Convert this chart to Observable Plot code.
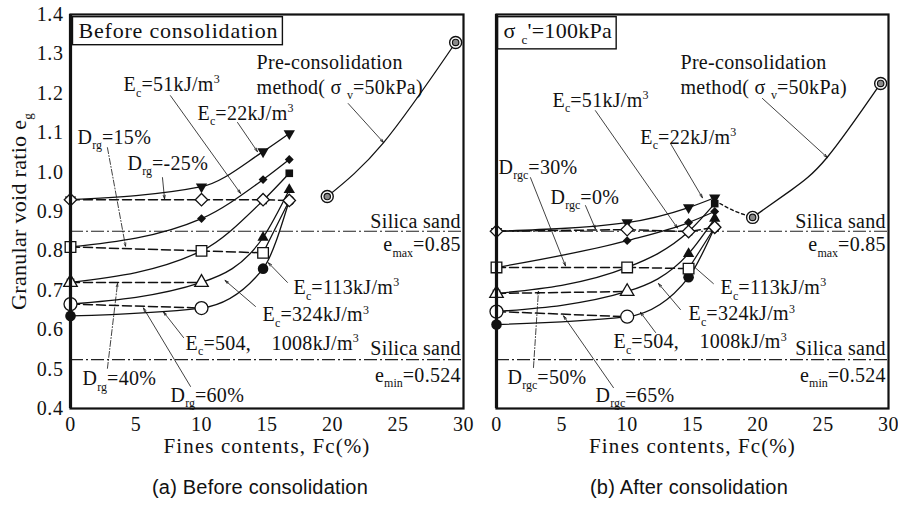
<!DOCTYPE html>
<html>
<head>
<meta charset="utf-8">
<script src="https://cdn.jsdelivr.net/npm/d3@7"></script>
<script src="https://cdn.jsdelivr.net/npm/@observablehq/plot@0.6"></script>
<style>
  body { margin: 0; background: #fff; }
  #fig { position: relative; width: 898px; height: 506px; background: #fff; overflow: hidden; }
  #fig svg { position: absolute; top: 0; overflow: visible; }
  #fig svg text, #fig svg tspan { font-family: "Liberation Serif", "DejaVu Serif", serif !important; letter-spacing: 0.3px; fill: #111; }
  .cap { position: absolute; top: 476px; font-family: "Liberation Sans", Arial, sans-serif; font-size: 20px;
         color: #111; transform: translateX(-50%); white-space: nowrap; letter-spacing: 0.2px; }
</style>
</head>
<body>
<div id="fig"></div>
<script>
// Fines contents (%) at which the compacted specimens were prepared
const fcSteps = [0, 10, 14.7, 16.7];
const energyLabels = ["22", "51", "113", "324", "504, 1008"];

// Granular void ratio before consolidation, one array per compaction energy (kJ/m3)
const before22 = [0.930, 0.963, 1.052, 1.098];
const before51 = [0.810, 0.882, 0.981, 1.032];
const before113 = [0.720, 0.800, 0.928, 0.997];
const before324 = [0.665, 0.720, 0.834, 0.955];
const before504 = [0.635, 0.655, 0.755, 0.928];
// Lines of constant granular relative density before consolidation
const beforeDrLevels = ["-25%", "15%", "40%", "60%"];
const beforeDrN25 = [0.930, 0.930, 0.930, 0.928];
const beforeDr15 = [0.810, 0.800, 0.795];
const beforeDr40 = [0.720, 0.720];
const beforeDr60 = [0.665, 0.655];

// Granular void ratio after consolidation (sigma_c' = 100 kPa)
const after22 = [0.850, 0.872, 0.910, 0.935];
const after51 = [0.758, 0.826, 0.872, 0.900];
const after113 = [0.692, 0.758, 0.849, 0.920];
const after324 = [0.646, 0.697, 0.793, 0.882];
const after504 = [0.613, 0.633, 0.733, 0.860];
const afterDrLevels = ["0%", "30%", "50%", "65%"];
const afterDr0 = [0.850, 0.854, 0.849, 0.860];
const afterDr30 = [0.758, 0.758, 0.755];
const afterDr50 = [0.692, 0.697];
const afterDr65 = [0.646, 0.633];

// Pre-consolidation method (sigma_v = 50 kPa)
const preFc = [19.6, 29.4];
const beforePre = [0.938, 1.329];
const afterPre = [0.885, 1.225];
const beforePreTraceFc = [19.6, 23.9, 29.4];
const beforePreTrace = [0.938, 1.075, 1.329];
const afterPreTraceFc = [19.6, 22.5, 25.3, 29.4];
const afterPreTrace = [0.885, 0.953, 1.037, 1.225];
const afterBridgeFc = [16.7, 18.1, 19.6];
const afterBridge = [0.928, 0.903, 0.885];

// Silica sand limits
const emax = 0.85;
const emin = 0.524;

const xTicks = [0, 5, 10, 15, 20, 25, 30];
const yTicks = [0.4, 0.5, 0.6, 0.7, 0.8, 0.9, 1.0, 1.1, 1.2, 1.3, 1.4];

// Annotations (label anchor and leader ends in data units)
const beforeNotes = [
  {fc: 0.61, e: 1.359, text: "Before consolidation", box: true},
  {fc: 14.2, e: 1.278, text: "Pre-consolidation"},
  {fc: 14.2, e: 1.215, text: "method( σ _{v}=50kPa)"},
  {fc: 4.05, e: 1.222, text: "E_{c}=51kJ/m^{3}"},
  {fc: 9.69, e: 1.149, text: "E_{c}=22kJ/m^{3}"},
  {fc: 0.53, e: 1.088, text: "D_{rg}=15%"},
  {fc: 4.35, e: 1.022, text: "D_{rg}=-25%"},
  {fc: 17.02, e: 0.707, text: "E_{c}=113kJ/m^{3}"},
  {fc: 14.66, e: 0.638, text: "E_{c}=324kJ/m^{3}"},
  {fc: 8.78, e: 0.565, text: "E_{c}=504,　1008kJ/m^{3}"},
  {fc: 0.92, e: 0.476, text: "D_{rg}=40%"},
  {fc: 7.63, e: 0.433, text: "D_{rg}=60%"}
];
const beforeLeaders = [
  {x1: 21.2, y1: 1.174, x2: 23.9, y2: 1.075},
  {x1: 7.63, y1: 1.194, x2: 12.98, y2: 0.946},
  {x1: 12.75, y1: 1.126, x2: 14.27, y2: 1.052},
  {x1: 7.02, y1: 0.986, x2: 7.18, y2: 0.932},
  {x1: 16.56, y1: 0.72, x2: 15.1, y2: 0.77},
  {x1: 14.12, y1: 0.659, x2: 11.8, y2: 0.725},
  {x1: 8.63, y1: 0.58, x2: 7.1, y2: 0.645},
  {x1: 9.16, y1: 0.456, x2: 5.57, y2: 0.655}
];
const beforeDashLeaders = [
  {x1: 2.82, y1: 1.062, x2: 4.2, y2: 0.812},
  {x1: 2.82, y1: 0.502, x2: 3.59, y2: 0.717}
];

const afterNotes = [
  {fc: 0.54, e: 1.359, text: "σ _{c}'=100kPa", box: true},
  {fc: 14.08, e: 1.278, text: "Pre-consolidation"},
  {fc: 14.08, e: 1.215, text: "method( σ _{v}=50kPa)"},
  {fc: 4.28, e: 1.182, text: "E_{c}=51kJ/m^{3}"},
  {fc: 11.0, e: 1.088, text: "E_{c}=22kJ/m^{3}"},
  {fc: 0.15, e: 1.012, text: "D_{rgc}=30%"},
  {fc: 4.13, e: 0.936, text: "D_{rgc}=0%"},
  {fc: 17.14, e: 0.707, text: "E_{c}=113kJ/m^{3}"},
  {fc: 14.69, e: 0.640, text: "E_{c}=324kJ/m^{3}"},
  {fc: 8.95, e: 0.569, text: "E_{c}=504,　1008kJ/m^{3}"},
  {fc: 0.84, e: 0.479, text: "D_{rgc}=50%"},
  {fc: 7.57, e: 0.433, text: "D_{rgc}=65%"}
];
const afterLeaders = [
  {x1: 20.35, y1: 1.187, x2: 25.32, y2: 1.037},
  {x1: 7.57, y1: 1.156, x2: 13.85, y2: 0.858},
  {x1: 13.31, y1: 1.073, x2: 15.76, y2: 0.935},
  {x1: 2.6, y1: 0.986, x2: 5.28, y2: 0.762},
  {x1: 6.81, y1: 0.915, x2: 7.57, y2: 0.856},
  {x1: 16.6, y1: 0.717, x2: 14.84, y2: 0.768},
  {x1: 14.08, y1: 0.651, x2: 12.4, y2: 0.717},
  {x1: 12.17, y1: 0.593, x2: 11.02, y2: 0.644},
  {x1: 8.95, y1: 0.453, x2: 5.13, y2: 0.635}
];
const afterDashLeaders = [
  {x1: 2.83, y1: 0.504, x2: 3.21, y2: 0.698}
];

// marker styling for the series above
const filledSymbol = ["triangle", "diamond2", "square", "triangle", "circle"];
const filledRotate = [180, 0, 0, 0, 0];
const filledR = [4.2, 4.0, 4.3, 4.2, 5.3];
const hollowSymbol = ["diamond2", "square", "triangle", "circle"];
const hollowR = [5.6, 6.0, 5.0, 6.5];

const SERIF = "'Liberation Serif', 'DejaVu Serif', serif";
const toRows = (xs, ys) => ys.map((e, i) => ({fc: xs[i], e}));

function panel({energy, dr, pre, preTraceFc, preTrace, bridgeFc, bridge, notes, leaders, dashLeaders, width, marginLeft, marginRight, showY}) {
  const marks = [];
  // silica sand limits
  marks.push(Plot.ruleY([emax, emin], {stroke: "#222", strokeWidth: 1.1, strokeDasharray: "13,3,2,3"}));
  // constant relative density lines (dashed)
  dr.forEach(vals => marks.push(Plot.line(toRows(fcSteps, vals), {x: "fc", y: "e", stroke: "#111", strokeWidth: 1.5, strokeDasharray: "9,4"})));
  // the second density line rises to the common end point
  const drLast = dr[1].length - 1;
  marks.push(Plot.line([
    {fc: fcSteps[drLast], e: dr[1][drLast]},
    {fc: fcSteps[3], e: dr[0][3]}
  ], {x: "fc", y: "e", curve: "monotone-x", stroke: "#111", strokeWidth: 1.2}));
  // compaction energy curves
  energy.forEach(vals => marks.push(Plot.line(toRows(fcSteps, vals), {x: "fc", y: "e", curve: "monotone-x", stroke: "#111", strokeWidth: 1.3})));
  // pre-consolidation curve
  marks.push(Plot.line(toRows(preTraceFc, preTrace), {x: "fc", y: "e", curve: "natural", stroke: "#111", strokeWidth: 1.3}));
  if (bridge) marks.push(Plot.line(toRows(bridgeFc, bridge), {x: "fc", y: "e", curve: "natural", stroke: "#111", strokeWidth: 1.4, strokeDasharray: "3,3"}));
  // leaders
  marks.push(Plot.arrow(leaders, {x1: "x1", y1: "y1", x2: "x2", y2: "y2", stroke: "#111", strokeWidth: 0.8, headLength: 7, headAngle: 32}));
  marks.push(Plot.arrow(dashLeaders, {x1: "x1", y1: "y1", x2: "x2", y2: "y2", stroke: "#111", strokeWidth: 0.8, headLength: 6, headAngle: 32, strokeDasharray: "6,2,1,2"}));
  // filled markers
  energy.forEach((vals, k) => marks.push(Plot.dot(toRows(fcSteps, vals), {
    x: "fc", y: "e", symbol: filledSymbol[k], rotate: filledRotate[k], r: filledR[k], fill: "#111", stroke: "none"
  })));
  // hollow markers
  dr.forEach((vals, k) => marks.push(Plot.dot(toRows(fcSteps, vals), {
    x: "fc", y: "e", symbol: hollowSymbol[k], r: hollowR[k], fill: "white", stroke: "#111", strokeWidth: 1.3
  })));
  // pre-consolidation markers (double circle)
  const preRows = toRows(preFc, pre);
  marks.push(Plot.dot(preRows, {x: "fc", y: "e", r: 6, fill: "white", stroke: "#111", strokeWidth: 1.4}));
  marks.push(Plot.dot(preRows, {x: "fc", y: "e", r: 3.2, fill: "#8a8a8a", stroke: "#111", strokeWidth: 1.2}));
  // silica sand labels
  marks.push(Plot.text(["Silica sand", "e_{max}=0.85", "Silica sand", "e_{min}=0.524"], {
    x: 29.8, y: [0.875, 0.816, 0.552, 0.484], text: d => d, textAnchor: "end", fontSize: 20, fontFamily: SERIF
  }));
  // annotations
  marks.push(Plot.text(notes, {x: "fc", y: "e", text: "text", textAnchor: "start", fontSize: d => d.box ? 22 : 20, fontFamily: SERIF}));
  // frame
  marks.push(Plot.frame({stroke: "#111", strokeWidth: 2.2}));
  marks.push(Plot.ruleX([0], {stroke: "#111", strokeWidth: 3.2}));

  return Plot.plot({
    width, height: 460,
    marginLeft, marginRight, marginTop: 14, marginBottom: 52,
    style: {fontFamily: SERIF, fontSize: "20px", background: "transparent", overflow: "visible"},
    x: {domain: [0, 30], ticks: xTicks, tickSize: 0, tickPadding: 8, label: "Fines contents, Fc(%)",
        labelAnchor: "center", labelOffset: 44, labelArrow: "none"},
    y: showY
      ? {domain: [0.4, 1.4], ticks: yTicks, tickFormat: d => d.toFixed(1), tickSize: 0, tickPadding: 7,
         label: "Granular void ratio e_{g}", labelAnchor: "center", labelOffset: 60, labelArrow: "none"}
      : {domain: [0.4, 1.4], axis: null},
    marks
  });
}

// rewrite "_{..}" and "^{..}" markup as sub/superscript tspans
function richText(svg) {
  d3.select(svg).selectAll("text").each(function () {
    const s = this.textContent;
    if (!/[_^]\{/.test(s) || this.querySelector("tspan")) return;
    const parts = [];
    const re = /([_^])\{([^}]*)\}/g;
    let last = 0, m;
    while ((m = re.exec(s))) {
      if (m.index > last) parts.push({t: s.slice(last, m.index), k: ""});
      parts.push({t: m[2], k: m[1]});
      last = re.lastIndex;
    }
    if (last < s.length) parts.push({t: s.slice(last), k: ""});
    const fs = parseFloat(getComputedStyle(this).fontSize) || 20;
    const sel = d3.select(this).text(null);
    let shift = 0;
    for (const p of parts) {
      const target = p.k === "_" ? fs * 0.28 : p.k === "^" ? -fs * 0.38 : 0;
      const t = sel.append("tspan").attr("dy", (target - shift).toFixed(2)).text(p.t);
      if (p.k) t.attr("font-size", (fs * 0.6).toFixed(1) + "px").style("letter-spacing", "0px");
      shift = target;
    }
  });
}

function boxes(svg) {
  d3.select(svg).selectAll("text").each(function () {
    const s = this.textContent;
    if (!(s.startsWith("Before consolidation") || s.startsWith("σ c"))) return;
    this.style.letterSpacing = "0.8px";
    const b = this.getBBox();
    d3.select(this.parentNode).insert("rect", () => this)
      .attr("transform", this.getAttribute("transform"))
      .attr("x", b.x - 6).attr("y", b.y - 1).attr("width", b.width + 10).attr("height", b.height + 3)
      .attr("fill", "white").attr("stroke", "#111").attr("stroke-width", 1.4);
  });
}

const fig = document.getElementById("fig");

const left = panel({
  energy: [before22, before51, before113, before324, before504],
  dr: [beforeDrN25, beforeDr15, beforeDr40, beforeDr60],
  pre: beforePre, preTraceFc: beforePreTraceFc, preTrace: beforePreTrace,
  notes: beforeNotes, leaders: beforeLeaders, dashLeaders: beforeDashLeaders,
  width: 478, marginLeft: 70, marginRight: 15, showY: true
});
left.style.left = "0px";
fig.appendChild(left);

const right = panel({
  energy: [after22, after51, after113, after324, after504],
  dr: [afterDr0, afterDr30, afterDr50, afterDr65],
  pre: afterPre, preTraceFc: afterPreTraceFc, preTrace: afterPreTrace,
  bridgeFc: afterBridgeFc, bridge: afterBridge,
  notes: afterNotes, leaders: afterLeaders, dashLeaders: afterDashLeaders,
  width: 420, marginLeft: 18, marginRight: 10, showY: false
});
right.style.left = "478px";
fig.appendChild(right);

for (const svg of [left, right]) {
  d3.select(svg).selectAll('g[aria-label="x-axis tick label"] text, g[aria-label="y-axis tick label"] text').style("letter-spacing", "0.6px");
  d3.select(svg).selectAll('g[aria-label="x-axis label"] text').style("font-size", "21px").style("letter-spacing", "1.1px");
  d3.select(svg).selectAll('g[aria-label="y-axis label"] text').style("font-size", "22px").style("letter-spacing", "1.7px");
  richText(svg);
  boxes(svg);
}

for (const [label, x] of [["(a) Before consolidation", 260], ["(b) After consolidation", 689]]) {
  const d = document.createElement("div");
  d.className = "cap";
  d.style.left = x + "px";
  d.textContent = label;
  fig.appendChild(d);
}
</script>
</body>
</html>
